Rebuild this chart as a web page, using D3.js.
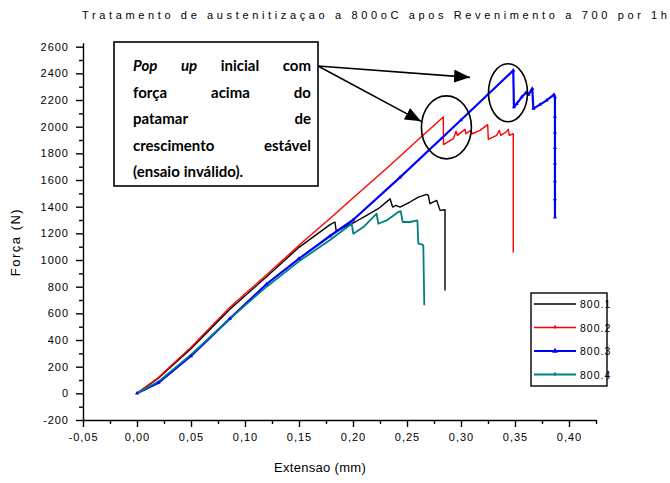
<!DOCTYPE html>
<html>
<head>
<meta charset="utf-8">
<script src="https://cdn.jsdelivr.net/npm/d3@7"></script>
<style>
  body { margin: 0; background: #fff; }
  svg { display: block; }
</style>
</head>
<body>
<svg id="chart" width="670" height="483"></svg>
<script>
/* global d3 */

const title = 'Tratamento de austenitizaçao a 800oC apos Revenimento a 700 por 1h'
const xLabel = 'Extensao (mm)'
const yLabel = 'Força (N)'

const xTicks = [-0.05, 0, 0.05, 0.1, 0.15, 0.2, 0.25, 0.3, 0.35, 0.4]
const xTickLabels = ['-0,05', '0,00', '0,05', '0,10', '0,15', '0,20', '0,25', '0,30', '0,35', '0,40']
const xMinor = [-0.025, 0.025, 0.075, 0.125, 0.175, 0.225, 0.275, 0.325, 0.375, 0.425]
const yTicks = [-200, 0, 200, 400, 600, 800, 1000, 1200, 1400, 1600, 1800, 2000, 2200, 2400, 2600]
const yTickLabels = ['-200', '0', '200', '400', '600', '800', '1000', '1200', '1400', '1600', '1800', '2000', '2200', '2400', '2600']
const yMinor = [-100, 100, 300, 500, 700, 900, 1100, 1300, 1500, 1700, 1900, 2100, 2300, 2500]

const seriesNames = ['800.1', '800.2', '800.3', '800.4']

// [extensao (mm), forca (N)]
const s800p1 = [
  [0, 0], [0.02, 115], [0.05, 335], [0.086, 630], [0.12, 875], [0.15, 1095], [0.1787, 1265],
  [0.1833, 1285], [0.1845, 1215], [0.195, 1260], [0.2019, 1285], [0.2127, 1335], [0.2234, 1385],
  [0.2327, 1447], [0.2343, 1460], [0.2367, 1397], [0.2398, 1410], [0.2435, 1397], [0.2528, 1435],
  [0.2605, 1472], [0.2682, 1492], [0.2697, 1485], [0.2713, 1422], [0.2775, 1447], [0.2806, 1372],
  [0.2852, 1377], [0.2852, 772]
]
const s800p2 = [
  [0, 0], [0.02, 120], [0.05, 345], [0.086, 645], [0.12, 890], [0.15, 1110], [0.18, 1320],
  [0.2, 1465], [0.2336, 1705], [0.26, 1900], [0.2836, 2072], [0.2838, 1865], [0.2929, 1910],
  [0.2954, 1965], [0.2966, 1935], [0.3037, 1980], [0.3046, 1947], [0.309, 1972], [0.3105, 1947],
  [0.3176, 1972], [0.3247, 2015], [0.3253, 1905], [0.333, 1935], [0.3355, 1972], [0.3368, 1935],
  [0.3417, 1960], [0.3438, 1980], [0.3447, 1935], [0.3484, 1947], [0.3484, 1057]
]
const s800p3 = [
  [0, 0], [0.02, 80], [0.05, 280], [0.086, 560], [0.12, 820], [0.15, 1010], [0.1787, 1180],
  [0.2, 1300], [0.2435, 1620], [0.3, 2050], [0.3484, 2422], [0.349, 2147], [0.3516, 2172],
  [0.3562, 2222], [0.3602, 2255], [0.3625, 2240], [0.366, 2285], [0.367, 2135], [0.3731, 2165],
  [0.3793, 2197], [0.3861, 2240], [0.387, 2222], [0.387, 2075], [0.387, 1958], [0.387, 1842],
  [0.387, 1725], [0.387, 1592], [0.387, 1457], [0.387, 1320]
]
const s800p4 = [
  [0, 0], [0.02, 90], [0.05, 290], [0.086, 560], [0.12, 800], [0.15, 990], [0.1787, 1150],
  [0.1988, 1272], [0.2003, 1197], [0.2096, 1247], [0.2219, 1347], [0.2234, 1272], [0.2312, 1297],
  [0.242, 1360], [0.2442, 1367], [0.246, 1285], [0.2528, 1285], [0.2596, 1297], [0.2605, 1122],
  [0.2636, 1117], [0.2651, 1110], [0.266, 660]
]

const noteLines = [
  ['Pop', 'up', 'inicial', 'com'],
  ['força', 'acima', 'do'],
  ['patamar', 'de'],
  ['crescimento', 'estável'],
  ['(ensaio', 'inválido).']
]
const noteItalic = ['Pop', 'up']

const series = [s800p1, s800p2, s800p3, s800p4]
const colors = ['#000000', '#ff0000', '#0000ff', '#008080']
const widths = [1.4, 1.4, 2.2, 1.8]

const svg = d3.select('#chart')
const axisFont = '"Liberation Sans", Arial, sans-serif'

const x = d3.scaleLinear().domain([-0.05, 0.425]).range([83, 596])
const y = d3.scaleLinear().domain([-200, 2630]).range([420, 42.67])

// title (runs to the right edge like the original)
svg.append('text')
  .attr('x', 82)
  .attr('y', 19)
  .attr('textLength', 585)
  .attr('lengthAdjust', 'spacing')
  .style('font', `11px ${axisFont}`)
  .text(title)

// axes
const xAxis = svg.append('g')
  .attr('transform', `translate(0,${y(-200)})`)
  .call(d3.axisBottom(x).tickValues(xTicks).tickSize(7).tickSizeOuter(0)
    .tickFormat((d, i) => xTickLabels[i]))
svg.append('g')
  .attr('transform', `translate(0,${y(-200)})`)
  .call(d3.axisBottom(x).tickValues(xMinor).tickSize(4).tickSizeOuter(0).tickFormat(''))
  .select('.domain').remove()

const yAxis = svg.append('g')
  .attr('transform', `translate(${x(-0.05)},0)`)
  .call(d3.axisLeft(y).tickValues(yTicks).tickSize(7).tickSizeOuter(0)
    .tickFormat((d, i) => yTickLabels[i]))
svg.append('g')
  .attr('transform', `translate(${x(-0.05)},0)`)
  .call(d3.axisLeft(y).tickValues(yMinor).tickSize(4).tickSizeOuter(0).tickFormat(''))
  .select('.domain').remove()

svg.selectAll('.domain, .tick line')
  .attr('stroke', '#000')
  .attr('stroke-width', 1.4)

xAxis.selectAll('text')
  .attr('dy', '0.71em')
  .attr('y', 13)
  .style('font', `11px ${axisFont}`)
  .style('letter-spacing', '1px')
  .attr('fill', '#000')
yAxis.selectAll('text')
  .attr('x', -14)
  .style('font', `11px ${axisFont}`)
  .style('letter-spacing', '1px')
  .attr('fill', '#000')

svg.append('text')
  .attr('x', 320)
  .attr('y', 472)
  .attr('text-anchor', 'middle')
  .style('font', `13px ${axisFont}`)
  .style('letter-spacing', '0.3px')
  .text(xLabel)

svg.append('text')
  .attr('transform', 'translate(20,242) rotate(-90)')
  .attr('text-anchor', 'middle')
  .style('font', `13px ${axisFont}`)
  .style('letter-spacing', '1.5px')
  .text(yLabel)

// curves
const line = d3.line().x(d => x(d[0])).y(d => y(d[1]))

series.forEach((data, i) => {
  svg.append('path')
    .datum(data)
    .attr('fill', 'none')
    .attr('stroke', colors[i])
    .attr('stroke-width', widths[i])
    .attr('stroke-linejoin', 'round')
    .attr('d', line)
})

// blue series has small triangle markers
svg.append('g').selectAll('path')
  .data(s800p3)
  .join('path')
  .attr('transform', d => `translate(${x(d[0])},${y(d[1])})`)
  .attr('d', d3.symbol(d3.symbolTriangle, 7))
  .attr('fill', colors[2])

// legend
const legend = svg.append('g').attr('transform', 'translate(531,293)')
legend.append('rect')
  .attr('width', 76)
  .attr('height', 93)
  .attr('fill', '#fff')
  .attr('stroke', '#000')
  .attr('stroke-width', 1.4)
seriesNames.forEach((name, i) => {
  const ry = 11 + i * 23.5
  legend.append('line')
    .attr('x1', 3).attr('x2', 45)
    .attr('y1', ry).attr('y2', ry)
    .attr('stroke', colors[i])
    .attr('stroke-width', widths[i])
  if (i === 2) {
    legend.append('path')
      .attr('transform', `translate(24,${ry})`)
      .attr('d', d3.symbol(d3.symbolTriangle, 14))
      .attr('fill', colors[i])
  } else if (i > 0) {
    legend.append('rect')
      .attr('x', 23).attr('y', ry - 2)
      .attr('width', 2).attr('height', 3)
      .attr('fill', colors[i])
  }
  legend.append('text')
    .attr('x', 49)
    .attr('y', ry + 4)
    .style('font', `10.5px ${axisFont}`)
    .style('letter-spacing', '1px')
    .text(name)
})

// annotation: circles round the pop-ups, box and arrows
const ann = svg.append('g')

ann.append('ellipse')
  .attr('cx', x(0.2865)).attr('cy', y(1995))
  .attr('rx', 25).attr('ry', 31.5)
  .attr('fill', 'none').attr('stroke', '#000').attr('stroke-width', 1.6)
ann.append('ellipse')
  .attr('cx', x(0.3435)).attr('cy', y(2254))
  .attr('rx', 19.5).attr('ry', 29)
  .attr('fill', 'none').attr('stroke', '#000').attr('stroke-width', 1.6)

svg.append('defs').append('marker')
  .attr('id', 'head')
  .attr('markerUnits', 'userSpaceOnUse')
  .attr('markerWidth', 16).attr('markerHeight', 13)
  .attr('refX', 16).attr('refY', 6.5)
  .attr('orient', 'auto')
  .append('path')
  .attr('d', 'M0,0 L16,6.5 L0,13 Z')
  .attr('fill', '#000')

const boxL = 114
const boxT = 42
const boxR = 318
const boxB = 186

ann.append('line')
  .attr('x1', boxR).attr('y1', 66)
  .attr('x2', x(0.3083)).attr('y2', y(2370))
  .attr('stroke', '#000').attr('stroke-width', 1.6)
  .attr('marker-end', 'url(#head)')
ann.append('line')
  .attr('x1', boxR).attr('y1', 66)
  .attr('x2', x(0.263)).attr('y2', y(2040))
  .attr('stroke', '#000').attr('stroke-width', 1.6)
  .attr('marker-end', 'url(#head)')

ann.append('rect')
  .attr('x', boxL).attr('y', boxT)
  .attr('width', boxR - boxL).attr('height', boxB - boxT)
  .attr('fill', '#fff')
  .attr('stroke', '#000')
  .attr('stroke-width', 1.6)

// justified note text
const textL = 133
const textR = 311
const noteFont = 'Lato, "Open Sans", sans-serif'
noteLines.forEach((words, li) => {
  const baseY = 71 + li * 26.5
  const nodes = words.map(w => ann.append('text')
    .attr('y', baseY)
    .style('font-family', noteFont)
    .style('font-weight', 'bold')
    .style('font-size', '15px')
    .style('font-style', noteItalic.includes(w) ? 'italic' : 'normal')
    .text(w))
  const lens = nodes.map(n => n.node().getComputedTextLength())
  const total = d3.sum(lens)
  const last = li === noteLines.length - 1
  const gap = last ? 4 : (textR - textL - total) / (words.length - 1)
  let cx = textL
  nodes.forEach((n, k) => {
    n.attr('x', cx)
    cx += lens[k] + gap
  })
})
</script>
</body>
</html>
